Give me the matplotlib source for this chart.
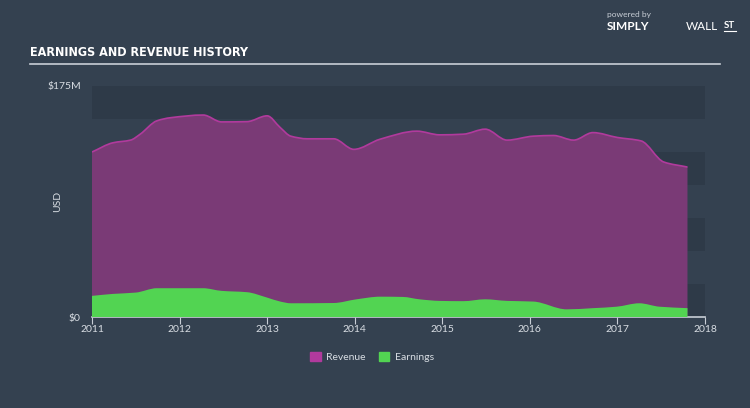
import numpy as np
import matplotlib
matplotlib.use("Agg")
import matplotlib.pyplot as plt
from matplotlib.patches import Patch, PathPatch
from matplotlib.path import Path

# data (year, $M)
rev_years = [2011.0, 2011.24, 2011.44, 2011.55, 2011.74, 2011.9, 2012.27, 2012.48,
             2012.77, 2013.0, 2013.15, 2013.27, 2013.46, 2013.76, 2013.99, 2014.29,
             2014.71, 2014.97, 2015.24, 2015.49, 2015.74, 2016.04, 2016.27, 2016.5,
             2016.72, 2017.0, 2017.27, 2017.53, 2017.8]
revenue = [125, 132, 134, 138.5, 148.6, 151, 153, 147.8,
           148, 152.4, 143.5, 137, 135, 135, 127, 134.7,
           140.8, 138, 138.5, 142.3, 134, 137, 137.5, 134,
           139.7, 136, 133.4, 117.4, 113.6]

earn_years = [2011.0, 2011.24, 2011.5, 2011.74, 2012.27, 2012.48, 2012.77, 2013.0,
              2013.15, 2013.27, 2013.76, 2014.02, 2014.29, 2014.55, 2014.74, 2014.97,
              2015.24, 2015.49, 2015.74, 2016.04, 2016.42, 2016.72, 2016.99, 2017.25,
              2017.48, 2017.8]
earnings = [16, 17.5, 18.5, 21.8, 21.8, 19.8, 18.8, 14.7,
            11.7, 10.4, 10.6, 13.4, 15.4, 15.2, 13.4, 12.2,
            12, 13.4, 12.2, 11.7, 5.8, 6.7, 7.8, 10.4,
            7.8, 6.7]

BG = "#344150"
BAND = "#2e3a48"
REV_FILL = "#7a3a76"
REV_LINE = "#b13a9d"
EARN = "#52d452"
TXT = "#d8dde3"
FONT = ["Lato", "DejaVu Sans"]


def monotone_curve(xs, ys):
    # bezier segments through the points, monotone-x style tangents
    x = np.asarray(xs, float)
    y = np.asarray(ys, float)
    h = np.diff(x)
    d = np.diff(y) / h
    m = np.zeros_like(y)
    m[0], m[-1] = d[0], d[-1]
    for i in range(1, len(y) - 1):
        if d[i-1] * d[i] > 0:
            m[i] = 2 / (1/d[i-1] + 1/d[i])
    verts = [(x[0], y[0])]
    codes = [Path.MOVETO]
    for i in range(len(h)):
        verts += [(x[i] + h[i]/3, y[i] + m[i]*h[i]/3),
                  (x[i+1] - h[i]/3, y[i+1] - m[i+1]*h[i]/3),
                  (x[i+1], y[i+1])]
        codes += [Path.CURVE4] * 3
    return verts, codes


def area_patch(xs, ys, **kw):
    verts, codes = monotone_curve(xs, ys)
    verts = [(xs[0], 0)] + verts + [(xs[-1], 0), (xs[0], 0)]
    codes = [Path.MOVETO, Path.LINETO] + codes[1:] + [Path.LINETO, Path.CLOSEPOLY]
    return PathPatch(Path(verts, codes), **kw)


fig = plt.figure(figsize=(7.5, 4.08), dpi=100, facecolor=BG)
ax = fig.add_axes([92/750, 1-317/408, (705-92)/750, (317-86)/408])
ax.set_facecolor(BG)

# alternating bands every $25M
for lo in range(0, 175, 50):
    ax.axhspan(lo, lo+25, color=BAND, zorder=0, lw=0)

ax.add_patch(area_patch(rev_years, revenue, facecolor=REV_FILL, lw=0, zorder=2))
v, c = monotone_curve(rev_years, revenue)
ax.add_patch(PathPatch(Path(v, c), facecolor="none", edgecolor=REV_LINE, lw=1.2, zorder=3))
ax.add_patch(area_patch(earn_years, earnings, facecolor=EARN, lw=0, zorder=4))

ax.set_xlim(2011, 2018)
ax.set_ylim(0, 175)
for s in ["top", "right", "left"]:
    ax.spines[s].set_visible(False)
ax.spines["bottom"].set_color("#c8ced6")
ax.spines["bottom"].set_linewidth(1.2)
ax.set_xticks(range(2011, 2019))
ax.tick_params(axis="x", colors="#c8ced6", labelcolor=TXT, labelsize=7.5, length=5, pad=1)
ax.set_yticks([0, 175])
ax.set_yticklabels(["$0", "$175M"])
ax.tick_params(axis="y", length=0, labelcolor=TXT, labelsize=7.5, pad=8)
for lab in ax.get_xticklabels() + ax.get_yticklabels():
    lab.set_family(FONT)
ax.set_ylabel("USD", color=TXT, fontsize=7.5, family=FONT)
ax.yaxis.set_label_coords(-30/613, 0.5)

fig.text(30/750, 1-52/408, "EARNINGS AND REVENUE HISTORY", color="white",
         fontsize=9, fontweight="bold", fontstretch="condensed",
         family=["DejaVu Sans"], va="center")
fig.add_artist(plt.Line2D([30/750, 720/750], [1-64/408, 1-64/408], color="#c8ced6", lw=1.2))

fig.text(607/750, 1-14/408, "powered by", color="#c8ced6", fontsize=6, va="center", family=FONT)
fig.text(607/750, 1-27/408, "SIMPLY", color="white", fontsize=8.5, fontweight="bold",
         va="center", family=FONT)
fig.text(686/750, 1-27/408, "WALL", color="white", fontsize=8.5, va="center", family=FONT)
fig.text(724/750, 1-26/408, "ST", color="white", fontsize=7, fontweight="bold",
         va="center", family=FONT)
fig.add_artist(plt.Line2D([724/750, 736/750], [1-31/408, 1-31/408], color="white", lw=0.8))

handles = [Patch(color=REV_LINE, label="Revenue"), Patch(color=EARN, label="Earnings")]
fig.legend(handles=handles, loc="center", bbox_to_anchor=(372/750, 1-357/408), ncol=2,
           frameon=False, prop={"family": FONT, "size": 7.5}, labelcolor=TXT,
           handlelength=1.0, handleheight=1.0, columnspacing=1.3, handletextpad=0.5)

fig.savefig("out.png", dpi=100, facecolor=BG)
